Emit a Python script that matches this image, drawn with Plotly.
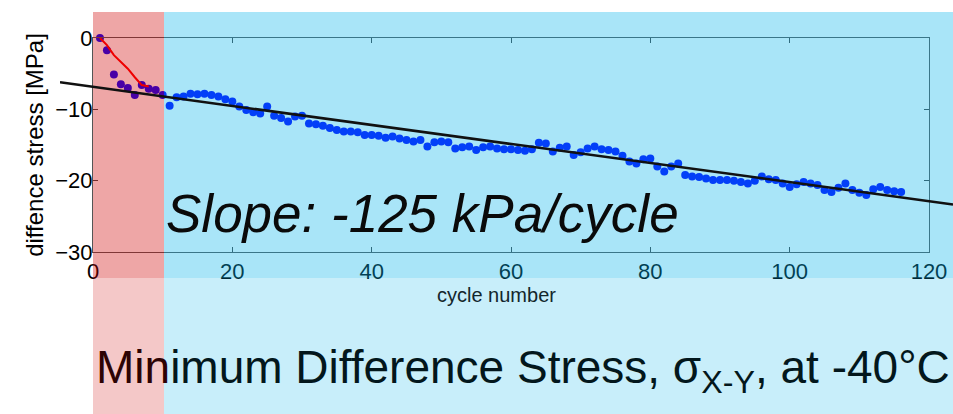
import plotly.graph_objects as go

# ---------------- data ----------------
cycles = list(range(1, 117))
stress = [
    0.0, -1.7, -5.1, -6.5, -7.0, -8.0, -6.6, -7.1, -7.3, -8.0,
    -9.5, -8.3, -8.2, -7.8, -7.9, -7.8, -8.0, -8.2, -8.6, -8.9,
    -9.6, -10.1, -10.4, -10.6, -9.6, -10.9, -11.2, -11.7, -11.0, -10.9,
    -12.0, -12.1, -12.3, -12.6, -12.9, -13.1, -13.1, -13.2, -13.6, -13.6,
    -13.7, -14.0, -13.8, -14.1, -14.3, -14.5, -14.3, -15.2, -14.6, -14.5,
    -14.6, -15.5, -15.3, -15.2, -15.7, -15.3, -15.2, -15.5, -15.6, -15.6,
    -15.7, -15.8, -15.6, -14.7, -14.8, -15.9, -15.4, -15.2, -16.4, -16.0,
    -15.5, -15.2, -15.6, -15.7, -15.9, -16.5, -17.3, -17.6, -17.0, -16.9,
    -18.0, -18.7, -18.0, -17.6, -19.2, -19.4, -19.5, -19.7, -19.9, -19.9,
    -19.9, -20.0, -20.2, -20.4, -20.0, -19.4, -19.8, -19.9, -20.4, -20.9,
    -20.5, -20.2, -20.4, -20.6, -21.3, -21.6, -21.0, -20.4, -21.3, -21.7,
    -22.0, -21.2, -20.9, -21.3, -21.5, -21.6,
]
red_x = [1, 2, 3, 4, 5, 6, 7, 8]
red_y = [0.0, -1.0, -2.4, -3.4, -4.3, -5.5, -6.6, -6.8]
fit_slope = -0.1335
fit_intercept = -6.85
x_ticks = [0, 20, 40, 60, 80, 100, 120]
y_ticks = [0, -10, -20, -30]

# ---------------- layout geometry ----------------
W, H = 953, 414
ML, MR, MT, MB = 60, 0, 38, 162
PW = W - ML - MR
PH = H - MT - MB
box_l_px, box_r_px = 93, 929
d0 = (box_l_px - ML) / PW
d1 = (box_r_px - ML) / PW
ppu = (d1 - d0) / 120.0
x2range = [0 - d0 / ppu, 120 + (1 - d1) / ppu]
fit_x = x2range
fit_y = [fit_intercept + fit_slope * v for v in fit_x]

def py(px):  # pixel row -> paper y
    return (H - MB - px) / PH

def pxx(px):  # pixel col -> paper x
    return (px - ML) / PW

FONT = "Liberation Sans, Arial, sans-serif"

fig = go.Figure()
fig.add_trace(go.Scatter(x=cycles, y=stress, mode="markers",
                         marker=dict(color="#0000ff", size=8),
                         cliponaxis=False, showlegend=False, hoverinfo="skip"))
fig.add_trace(go.Scatter(x=red_x, y=red_y, mode="lines",
                         line=dict(color="#ff0000", width=2),
                         showlegend=False, hoverinfo="skip"))
# invisible carrier for the x2 axis (fit line is drawn on top of the overlays)
fig.add_trace(go.Scatter(x=fit_x, y=fit_y, mode="lines", xaxis="x2", yaxis="y",
                         line=dict(color="rgba(0,0,0,0)", width=0),
                         showlegend=False, hoverinfo="skip"))

red_split = pxx(164)
shapes = []
shapes.append(dict(type="rect", xref="paper", yref="paper", layer="above",
                   x0=d0, x1=red_split, y0=py(278), y1=py(12),
                   fillcolor="rgba(205,0,0,0.35)", line=dict(width=0)))
shapes.append(dict(type="rect", xref="paper", yref="paper", layer="above",
                   x0=red_split, x1=1.0, y0=py(278), y1=py(12),
                   fillcolor="rgba(10,180,234,0.35)", line=dict(width=0)))
shapes.append(dict(type="rect", xref="paper", yref="paper", layer="above",
                   x0=d0, x1=red_split, y0=py(414), y1=py(278),
                   fillcolor="rgba(205,5,5,0.22)", line=dict(width=0)))
shapes.append(dict(type="rect", xref="paper", yref="paper", layer="above",
                   x0=red_split, x1=1.0, y0=py(414), y1=py(278),
                   fillcolor="rgba(5,177,232,0.22)", line=dict(width=0)))
# linear fit, drawn through the x2/y axes on top of the overlays
shapes.append(dict(type="line", xref="x2", yref="y", layer="above",
                   x0=fit_x[0], y0=fit_y[0], x1=fit_x[1], y1=fit_y[1],
                   line=dict(color="#111111", width=2.5)))

axis_common = dict(showgrid=False, zeroline=False, showline=True, mirror="ticks",
                   linecolor="#555555", linewidth=1, ticks="inside", ticklen=5,
                   tickcolor="#444444", tickfont=dict(family=FONT, size=22, color="#000000"))

fig.update_layout(
    width=W, height=H, autosize=False,
    margin=dict(l=ML, r=MR, t=MT, b=MB, pad=0, autoexpand=False),
    paper_bgcolor="white", plot_bgcolor="rgba(0,0,0,0)",
    xaxis=dict(domain=[d0, d1], range=[0, 120], tickvals=x_ticks,
               anchor="y", **axis_common),
    xaxis2=dict(domain=[0, 1], range=x2range, anchor="y", visible=False),
    yaxis=dict(range=[-30, 0], tickvals=y_ticks, anchor="x", ticklabelstandoff=-5,
               title=dict(text="diffence stress [MPa]", standoff=4,
                          font=dict(family=FONT, size=24, color="#000000")),
               **axis_common),
    shapes=shapes,
    annotations=[
        dict(text="cycle number", xref="paper", yref="paper",
             x=pxx(496), y=py(295), xanchor="center", yanchor="middle", showarrow=False,
             font=dict(family=FONT, size=20, color="#13262c")),
        dict(text="<i>Slope: -125 kPa/cycle</i>", xref="paper", yref="paper",
             x=pxx(164), y=py(213), xanchor="left", yanchor="middle", showarrow=False,
             font=dict(family=FONT, size=53, color="#0a0a0a")),
        dict(text="<span style='color:#2d0303'>Min</span>imum Difference Stress, "
                  "σ<sub>X-Y</sub>, at -40°C",
             xref="paper", yref="paper", x=pxx(94), y=py(370), xanchor="left",
             yanchor="middle", showarrow=False,
             font=dict(family=FONT, size=46, color="#03171c")),
    ],
)

fig.write_html("out.html", config={"displayModeBar": False},
               post_script="document.body.style.margin='0';document.body.style.overflow='hidden';")
